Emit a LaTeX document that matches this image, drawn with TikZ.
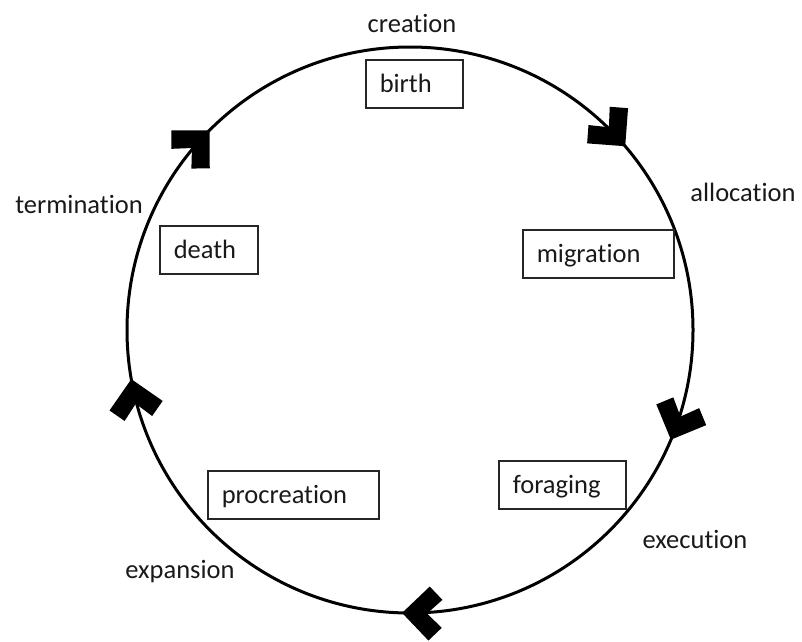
\documentclass[tikz,border=0pt]{standalone}
\usepackage{fontspec}
\setmainfont{Carlito}[Ligatures={NoCommon,NoRequired,NoContextual}]
\usetikzlibrary{calc}
\begin{document}
\begin{tikzpicture}[x=1pt,y=-1pt,
  every node/.style={font=\fontsize{26.5}{32}\selectfont, text=black!90},
  stage/.style={draw=black!85, line width=1.5pt, anchor=base west,
    inner xsep=14pt, inner ysep=0pt, text height=32pt, text depth=16pt, align=left},
  phase/.style={anchor=base},
  chev/.pic={\fill (1,0) -- (-26,27) -- (-39,14) -- (-24,0) -- (-39,-14) -- (-26,-27) -- cycle;}
]
\useasboundingbox (0,0) rectangle (802,641);

% the life-cycle ring
\coordinate (c) at (410,330);
\draw[line width=3pt] (c) circle[radius=283];

% clockwise direction marks
\foreach \a in {-40.7, 22.6, 91.4, 169.8, -135.3}
  \pic[rotate={-(\a+90)}] at ($(c)+(\a:283)$) {chev};

% stages inside the ring
\node[stage, text width=69pt]  (birth)  at (365,92)  {birth};
\node[stage, text width=123pt] (migr)   at (522,262) {migration};
\node[stage, text width=70pt]  (death)  at (159,258) {death};
\node[stage, text width=99pt]  (forag)  at (498,493) {foraging};
\node[stage, text width=143pt] (procr)  at (207,503) {procreation};

% phases around the ring
\node[phase] (creation)    at (412,32)  {creation};
\node[phase] (allocation)  at (743,201) {allocation};
\node[phase] (termination) at (79,213)  {termination};
\node[phase] (execution)   at (695,548) {execution};
\node[phase] (expansion)   at (180,578) {expansion};
\end{tikzpicture}
\end{document}
